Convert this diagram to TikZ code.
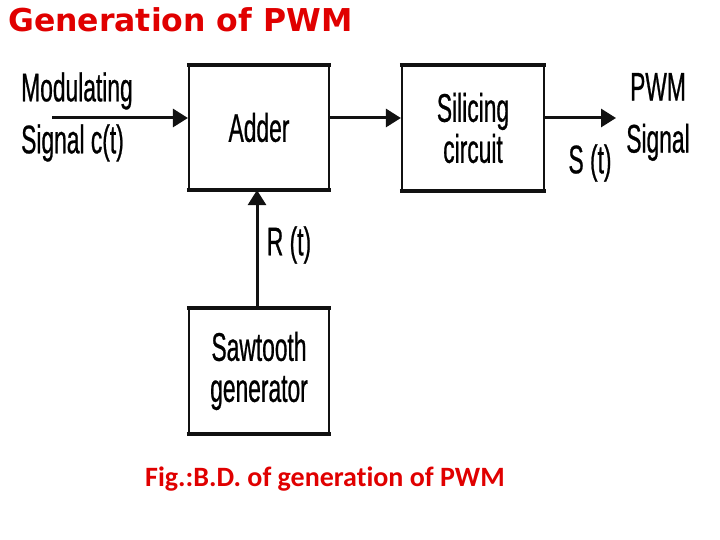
\documentclass[tikz,border=0pt]{standalone}
\usepackage{fontspec}
\usetikzlibrary{positioning,arrows.meta,calc}
\newfontfamily\diagfont[FakeStretch=0.57,FakeBold=0.6]{Liberation Sans}
\newfontfamily\titlefont{DejaVu Sans}
\newfontfamily\capfont[Ligatures=NoCommon]{Carlito}
\definecolor{headRed}{HTML}{E00000}
\definecolor{lineBlack}{HTML}{111111}

\begin{document}
\begin{tikzpicture}[
  x=1pt, y=-1pt,
  >={Triangle[length=15pt,width=18pt]},
  block/.style={rectangle, draw=lineBlack, line width=2.2pt, fill=white,
                minimum width=140pt, minimum height=123pt, inner sep=0pt,
                align=center, font=\diagfont\fontsize{40}{41}\selectfont},
  rim/.style={draw=lineBlack, line width=4.5pt},
  flow/.style={->, draw=lineBlack, line width=3pt},
  sigLabel/.style={inner sep=0pt, font=\diagfont\fontsize{40}{52}\selectfont},
  heading/.style={inner sep=0pt, anchor=base west, text=headRed,
                  font=\titlefont\bfseries\fontsize{31.5}{36}\selectfont},
  caption/.style={inner sep=0pt, anchor=base, text=headRed,
                  font=\capfont\bfseries\fontsize{28}{32}\selectfont}
]
\useasboundingbox (0,0) rectangle (720,540);

% ===== Heading =====
\node[heading] (title) at (8,32) {Generation of PWM};

% ===== Blocks =====
\node[block] (adder) at (259,127.5) {Adder};
\node[block, minimum width=142pt, minimum height=124pt] (slicer) at (473,128)
  {Silicing\\circuit};
\node[block, minimum height=124pt] (saw) at (259,371)
  {Sawtooth\\generator};

% heavier top and bottom edges
\foreach \b in {adder,slicer,saw}{
  \draw[rim] ([xshift=-1pt]\b.north west) -- ([xshift=1pt]\b.north east);
  \draw[rim] ([xshift=-1pt]\b.south west) -- ([xshift=1pt]\b.south east);
}

% ===== Signal labels =====
\node[sigLabel, align=left, anchor=west] (msig) at (21,117)
  {Modulating\\Signal c(t)};
\node[sigLabel, align=center] (pwm) at (658,117) {PWM\\Signal};
\node[sigLabel] (st) at (590,163) {S (t)};
\node[sigLabel] (rt) at (289,245) {R (t)};

% ===== Arrows =====
\coordinate (in) at (52,118);
\coordinate (out) at (616,118);
\draw[flow] (in) -- (in -| adder.west);
\draw[flow] (in -| adder.east) -- (in -| slicer.west);
\draw[flow] (in -| slicer.east) -- (out);
\draw[flow] ([xshift=-2pt]saw.north) -- ([xshift=-2pt]adder.south);

% ===== Caption =====
\node[caption] (cap) at (325,486) {Fig.:B.D. of generation of PWM};

\end{tikzpicture}
\end{document}
